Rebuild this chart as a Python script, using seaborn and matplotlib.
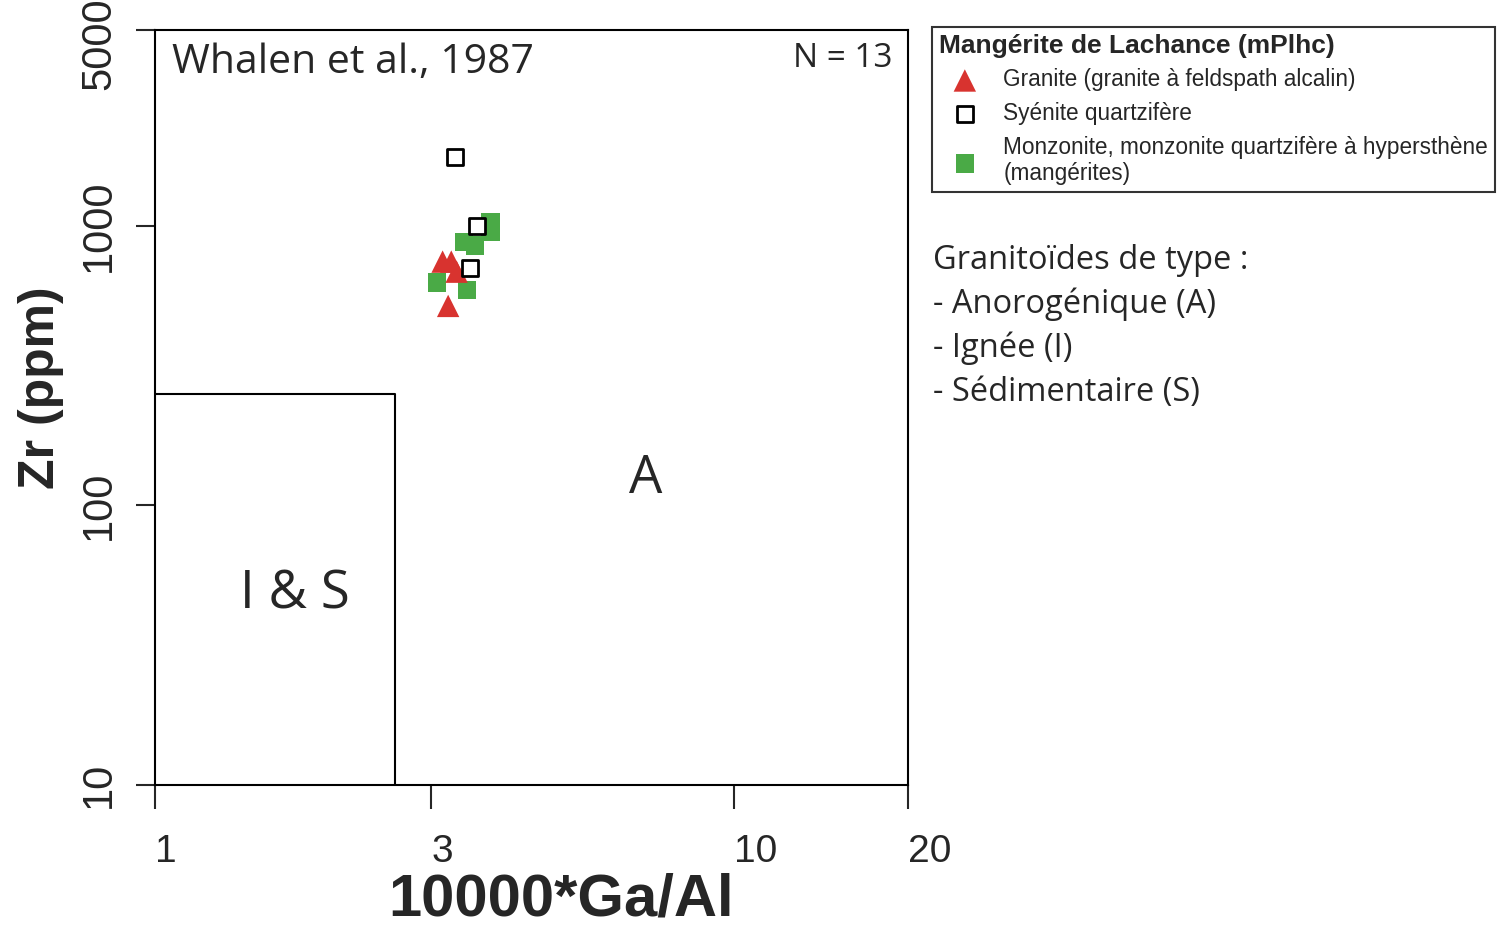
import numpy as np
import pandas as pd
import matplotlib
matplotlib.use("Agg")
import matplotlib.pyplot as plt
import matplotlib.transforms as mtransforms
import seaborn as sns

# Whalen et al. (1987) Zr vs 10000*Ga/Al, mangérite de Lachance
granite_gaal = [3.14, 3.25, 3.32, 3.21]
granite_zr = [743, 743, 684, 516]

syenite_gaal = [3.30, 3.60, 3.50]
syenite_zr = [1759, 997, 705]

monzonite_gaal = [3.80, 3.80, 3.42, 3.57, 3.07, 3.46]
monzonite_zr = [1030, 946, 872, 848, 625, 589]

# I & S field boundary
field_gaal = [1, 2.6, 2.6]
field_zr = [250, 250, 10]

x_ticks = [1, 3, 10, 20]
y_ticks = [10, 100, 1000, 5000]

labels = ["Granite (granite à feldspath alcalin)",
          "Syénite quartzifère",
          "Monzonite, monzonite quartzifère à hypersthène\n(mangérites)"]

df = pd.concat([
    pd.DataFrame({"gaal": granite_gaal, "zr": granite_zr, "type": labels[0]}),
    pd.DataFrame({"gaal": syenite_gaal, "zr": syenite_zr, "type": labels[1]}),
    pd.DataFrame({"gaal": monzonite_gaal, "zr": monzonite_zr, "type": labels[2]}),
])

sns.set_style("ticks")
plt.rcParams['font.family'] = ['Liberation Sans', 'DejaVu Sans']
myriad = ['Open Sans', 'DejaVu Sans']

fig = plt.figure(figsize=(15, 9.33), dpi=100)
ax = fig.add_axes([155/1500, 1-785/933, (908-155)/1500, (785-30)/933])

ax.plot(field_gaal, field_zr, color="black", lw=1.5)

sub = df[df["type"] == labels[2]]
sns.scatterplot(data=sub, x="gaal", y="zr", marker="s", s=175, color="#4aaa46",
                edgecolor="none", ax=ax, label=labels[2], zorder=3)
sub = df[df["type"] == labels[0]]
sns.scatterplot(data=sub, x="gaal", y="zr", marker="^", s=260, color="#d8332f",
                edgecolor="none", ax=ax, label=labels[0], zorder=4)
sub = df[df["type"] == labels[1]]
sns.scatterplot(data=sub, x="gaal", y="zr", marker="s", s=140, facecolor="white",
                edgecolor="black", linewidth=2, ax=ax, label=labels[1], zorder=5)

ax.set_xscale("log")
ax.set_yscale("log")
ax.set_xlim(1, 20)
ax.set_ylim(10, 5000)
ax.set_xticks(x_ticks)
ax.set_xticklabels([str(t) for t in x_ticks], fontsize=28, ha="left")
ax.set_yticks(y_ticks)
ax.set_yticklabels([str(t) for t in y_ticks], fontsize=30, rotation=90, va="center")
ax.minorticks_off()
ax.tick_params(axis="x", length=17, width=1.5, pad=18)
ax.tick_params(axis="y", length=14, width=1.5, pad=12)
for sp in ax.spines.values():
    sp.set_linewidth(1.5)
    sp.set_color("black")

# push the top y label down a bit so it stays inside the figure
lab = ax.get_yticklabels()[-1]
lab.set_transform(lab.get_transform() +
                  mtransforms.ScaledTranslation(0, -14/100, fig.dpi_scale_trans))

ax.set_xlabel("10000*Ga/Al", fontsize=43, fontweight="bold")
ax.set_ylabel("Zr (ppm)", fontsize=36, fontweight="bold")
ax.xaxis.set_label_coords(0.539, -0.116)
ax.yaxis.set_label_coords(-0.121, 0.526)

ax.text(0.023, 0.984, "Whalen et al., 1987", transform=ax.transAxes, fontsize=29.5,
        family=myriad, ha="left", va="top")
ax.text(0.980, 0.984, "N = 13", transform=ax.transAxes, fontsize=24,
        family=myriad, ha="right", va="top")
ax.text(7.03, 110.7, "A", fontsize=38, family=myriad, ha="center", va="baseline")
ax.text(1.746, 42.9, "I & S", fontsize=38, family=myriad, ha="center", va="baseline")

# legend outside on the right
handles, lbls = ax.get_legend_handles_labels()
order = [lbls.index(l) for l in labels]
ax.get_legend().remove()
leg = fig.legend([handles[i] for i in order], [lbls[i] for i in order],
                 loc="upper left", bbox_to_anchor=(932/1500, 1-27/933),
                 bbox_transform=fig.transFigure, title="Mangérite de Lachance (mPlhc)",
                 title_fontproperties={"weight": "bold", "size": 19},
                 fontsize=16.3, alignment="left", frameon=True, fancybox=False,
                 edgecolor="black", borderaxespad=0, handletextpad=0.55,
                 handlelength=2.3, labelspacing=0.47, borderpad=0.3)
leg.get_frame().set_linewidth(1.5)

fig.text(933/1500, 1-244/933, "Granitoïdes de type :\n- Anorogénique (A)\n- Ignée (I)\n- Sédimentaire (S)",
         fontsize=23.5, family=myriad, ha="left", va="top", linespacing=1.42)

fig.savefig("out.png", dpi=100)
